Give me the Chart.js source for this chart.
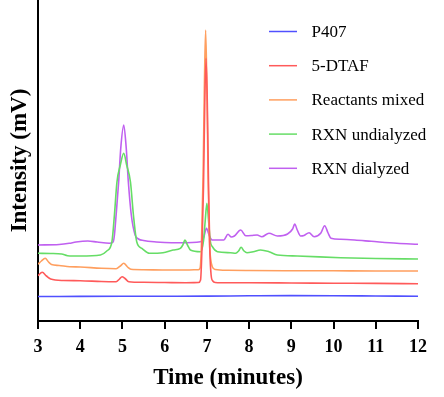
<!DOCTYPE html>
<html>
<head>
<meta charset="utf-8">
<script src="https://cdn.jsdelivr.net/npm/chart.js@4.4.1/dist/chart.umd.min.js"></script>
<style>
  body { margin: 0; background: #fff; }
  canvas { display: block; }
</style>
</head>
<body>
<canvas id="chromatogram" width="444" height="397"></canvas>
<script>
// tiempos (min) y señal
const xTicks = [3, 4, 5, 6, 7, 8, 9, 10, 11, 12];
const seriesNames = ['P407', '5-DTAF', 'Reactants mixed', 'RXN undialyzed', 'RXN dialyzed'];
const seriesColors = ['#5050ff', '#ff5a5a', '#ff9f5f', '#66dd66', '#c060f0'];

const p407Time = [3, 4, 5, 6, 7, 8, 9, 10, 11, 12];
const p407Values = [24.5, 24.6, 24.7, 24.8, 24.9, 25.2, 25.4, 25.3, 25.0, 24.7];

const dtafTime = [3.0, 3.1, 3.2, 3.3, 3.6, 4.0, 4.5, 4.85, 4.93, 4.99, 5.06, 5.15, 5.5, 6.0, 6.5, 6.8,
  6.85, 6.88, 6.92, 6.95, 6.98, 7.01, 7.04, 7.07, 7.10, 7.14, 7.2, 7.5, 8, 9, 10, 11, 12];
const dtafValues = [45.3, 48.7, 45, 42, 40.5, 40.3, 39.5, 39.3, 42, 44.3, 42.5, 39.3, 38.7, 38.5, 38.3, 38.5,
  41, 68, 135, 218, 262.7, 218, 132, 70, 46, 40, 38.5, 38.2, 38.2, 38, 37.8, 37.6, 37.3];

const mixedTime = [3.0, 3.08, 3.17, 3.25, 3.32, 3.5, 3.75, 4.0, 4.5, 4.85, 4.95, 5.03, 5.12, 5.2, 5.5, 6.0, 6.5, 6.8,
  6.84, 6.87, 6.91, 6.94, 6.97, 7.0, 7.03, 7.06, 7.09, 7.13, 7.2, 7.5, 8, 9, 10, 11, 12];
const mixedValues = [56.7, 60, 62.7, 59, 56.5, 55.5, 54.3, 54, 52.7, 52.3, 55, 57.7, 54, 51.7, 51.3, 51, 51, 51.3,
  53, 75, 145, 233, 291, 233, 142, 80, 62, 54, 51.5, 50.7, 50.5, 50.3, 50.2, 50, 50];

const undialyzedTime = [3.0, 3.3, 3.56, 3.7, 4.0, 4.48, 4.63, 4.75, 4.81, 4.87, 4.95, 5.03, 5.10, 5.19, 5.26, 5.34,
  5.46, 5.64, 5.96, 6.2, 6.37, 6.43, 6.48, 6.54, 6.61, 6.85, 6.92, 6.96, 7.0, 7.04, 7.08, 7.13, 7.25, 7.56,
  7.68, 7.75, 7.81, 7.88, 7.95, 8.1, 8.27, 8.47, 8.67, 9.14, 10.17, 11, 12];
const undialyzedValues = [67.7, 67.5, 67, 65.3, 65, 66, 70, 79, 106, 139, 156, 167.7, 156, 139, 106, 79,
  72.7, 67.7, 68.3, 71, 72.7, 76, 81, 76, 71, 69.3, 80, 100, 117.7, 100, 80, 74.3, 69.3, 68.3,
  67.7, 70, 73.7, 70, 68.3, 69.3, 71, 69.3, 66, 65, 63.3, 62.5, 62];

const dialyzedTime = [3.0, 3.5, 3.74, 3.9, 4.18, 4.4, 4.69, 4.78, 4.81, 4.85, 4.91, 4.96, 5.03, 5.09, 5.14, 5.21,
  5.30, 5.38, 5.5, 5.8, 6.0, 6.37, 6.85, 6.92, 6.99, 7.06, 7.13, 7.4, 7.5, 7.58, 7.65, 7.8, 7.92, 8.05,
  8.19, 8.3, 8.47, 8.67, 8.91, 9.03, 9.08, 9.14, 9.22, 9.3, 9.42, 9.54, 9.7, 9.79, 9.87, 9.94, 10.17,
  10.5, 10.89, 11.5, 12];
const dialyzedValues = [76, 76.5, 77.7, 79, 80, 79, 77.7, 79, 86, 106, 139, 172.7, 196, 172.7, 139, 106,
  86, 82, 80.5, 79, 78.5, 78.3, 79.3, 83, 92.7, 85, 81, 81, 86.7, 84, 85, 91, 85.3, 85.5,
  86, 84.3, 87.7, 85, 87, 92, 97, 91, 85, 85.5, 88.3, 84.3, 88, 95.3, 88, 82.7, 81.7,
  81, 79.7, 77.7, 76.7];

const seriesTimes = [p407Time, dtafTime, mixedTime, undialyzedTime, dialyzedTime];
const seriesValues = [p407Values, dtafValues, mixedValues, undialyzedValues, dialyzedValues];

const serif = '"Liberation Serif", "Times New Roman", serif';

// leyenda dibujada dentro del área del gráfico
const insideLegend = {
  id: 'insideLegend',
  afterDraw(chart) {
    const ctx = chart.ctx;
    ctx.save();
    ctx.font = '17px ' + serif;
    ctx.textBaseline = 'middle';
    ctx.fillStyle = '#000';
    seriesNames.forEach((name, i) => {
      const y = 31.5 + i * 34.2;
      ctx.strokeStyle = seriesColors[i];
      ctx.lineWidth = 1.5;
      ctx.beginPath();
      ctx.moveTo(269, y);
      ctx.lineTo(297, y);
      ctx.stroke();
      ctx.fillText(name, 311.5, y + 1);
    });
    ctx.restore();
  }
};

const datasets = seriesNames.map((name, i) => ({
  label: name,
  data: seriesTimes[i].map((t, j) => ({x: t, y: seriesValues[i][j]})),
  borderColor: seriesColors[i],
  borderWidth: 1.6,
  pointRadius: 0,
  fill: false,
  cubicInterpolationMode: 'monotone'
}));

new Chart(document.getElementById('chromatogram'), {
  type: 'line',
  data: {datasets},
  options: {
    responsive: false,
    animation: false,
    devicePixelRatio: 1,
    layout: {padding: {top: 0, right: 26, bottom: 0, left: 0}},
    plugins: {legend: {display: false}, tooltip: {enabled: false}},
    scales: {
      x: {
        type: 'linear',
        min: 3,
        max: 12,
        afterFit: s => { s.height = 76; },
        afterBuildTicks: s => { s.ticks = xTicks.map(v => ({value: v})); },
        ticks: {color: '#000', padding: 8, font: {family: serif, size: 18, weight: 'bold'}},
        grid: {drawOnChartArea: false, drawTicks: true, tickLength: 8, color: '#000', lineWidth: 2},
        border: {color: '#000', width: 2},
        title: {display: true, text: 'Time (minutes)', color: '#000',
          padding: {top: 0, bottom: 5}, font: {family: serif, size: 23, weight: 'bold'}}
      },
      y: {
        min: 0,
        max: 321,
        afterFit: s => { s.width = 38; },
        ticks: {display: false},
        grid: {display: false},
        border: {color: '#000', width: 2},
        title: {display: true, text: 'Intensity (mV)', color: '#000',
          padding: {top: 6, bottom: 0}, font: {family: serif, size: 23, weight: 'bold'}}
      }
    }
  },
  plugins: [insideLegend]
});
</script>
</body>
</html>
